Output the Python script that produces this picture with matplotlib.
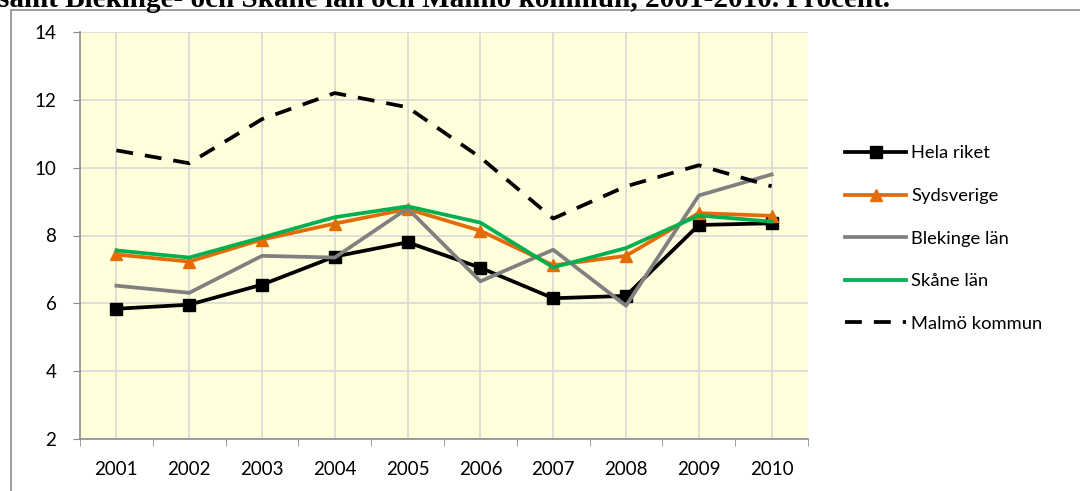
import numpy as np
import matplotlib.pyplot as plt
from matplotlib.patches import Rectangle
from matplotlib.ticker import FixedLocator

years = ["2001", "2002", "2003", "2004", "2005", "2006", "2007", "2008", "2009", "2010"]

hela_riket = [5.84, 5.96, 6.55, 7.38, 7.80, 7.05, 6.15, 6.22, 8.31, 8.36]
sydsverige = [7.44, 7.23, 7.88, 8.35, 8.78, 8.14, 7.12, 7.40, 8.66, 8.58]
blekinge = [6.52, 6.31, 7.40, 7.35, 8.80, 6.65, 7.58, 5.93, 9.18, 9.80]
skane = [7.56, 7.35, 7.94, 8.54, 8.86, 8.38, 7.06, 7.63, 8.59, 8.41]
malmo = [10.51, 10.13, 11.43, 12.20, 11.78, 10.30, 8.50, 9.45, 10.07, 9.45]

title = "samt Blekinge- och Skåne län och Malmö kommun, 2001-2010. Procent."

W, H = 1080, 491
fig = plt.figure(figsize=(W / 100, H / 100), dpi=100)

# outer chart frame (cut off at right and bottom)
fig.patches.append(Rectangle((11 / W, -0.05), 1.2, (H - 10) / H + 0.05,
                             transform=fig.transFigure, fill=False,
                             edgecolor="#8c8c8c", linewidth=1.2))

# heading above the chart, cut off at the top like in the source
fig.text(-0.002, 1 - 7 / H, title, family="Liberation Serif", weight="bold",
         fontsize=21, va="baseline", ha="left")

ax = fig.add_axes([80 / W, 1 - 439 / H, (808 - 80) / W, (439 - 32) / H])
ax.set_facecolor("#FFFFDC")

x = np.arange(len(years))
lw = 2.7
ax.plot(x, hela_riket, color="black", lw=lw, marker="s", ms=8.5, label="Hela riket", zorder=3)
ax.plot(x, sydsverige, color="#E36C09", lw=lw, marker="^", ms=9, label="Sydsverige", zorder=3)
ax.plot(x, blekinge, color="#808080", lw=lw, label="Blekinge län", zorder=3)
ax.plot(x, skane, color="#00B050", lw=lw, label="Skåne län", zorder=3)
ax.plot(x, malmo, color="black", lw=lw, dashes=(4.5, 3.2), label="Malmö kommun", zorder=3)

ax.set_xlim(-0.5, 9.5)
ax.set_ylim(2, 14)
ax.set_yticks(np.arange(2, 15, 2))
ax.set_xticks(x)
ax.set_xticklabels(years)
ax.xaxis.set_minor_locator(FixedLocator(np.arange(-0.5, 10, 1)))
ax.tick_params(axis="x", which="major", length=0, pad=16)
ax.tick_params(axis="x", which="minor", length=5, color="#8c8c8c", direction="out")
ax.tick_params(axis="y", length=5, color="#8c8c8c", direction="out", pad=12)
for lab in ax.get_xticklabels() + ax.get_yticklabels():
    lab.set_family("Lato")
    lab.set_fontsize(13.5)

ax.grid(True, color="#D9D9D9", lw=1.2, zorder=0)
ax.set_axisbelow(True)
for side in ["top", "right"]:
    ax.spines[side].set_visible(False)
for side in ["left", "bottom"]:
    ax.spines[side].set_color("#8c8c8c")
    ax.spines[side].set_linewidth(1.2)

leg = fig.legend(loc="upper left", bbox_to_anchor=(838 / W, 1 - 138 / H),
                 frameon=False, prop={"family": "Lato", "size": 13.2},
                 handlelength=3.3, handletextpad=0.3, labelspacing=1.45,
                 borderaxespad=0)

fig.savefig("out.png", dpi=100)
